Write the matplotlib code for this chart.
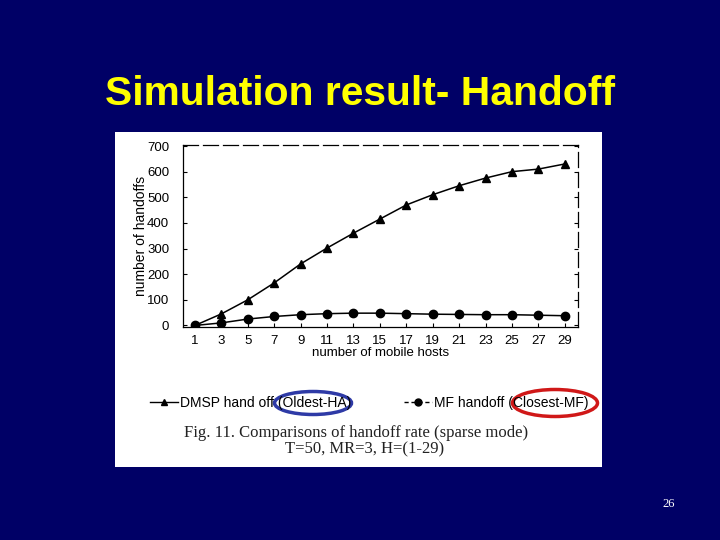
import matplotlib
matplotlib.use("Agg")
import matplotlib.pyplot as plt
from matplotlib.patches import Rectangle, Ellipse

# data
hosts = [1, 3, 5, 7, 9, 11, 13, 15, 17, 19, 21, 23, 25, 27, 29]
dmsp = [0, 45, 100, 166, 240, 302, 360, 415, 470, 510, 545, 575, 600, 610, 630]
mf = [0, 10, 25, 35, 42, 46, 48, 48, 46, 44, 43, 42, 42, 40, 38]
yticks = [0, 100, 200, 300, 400, 500, 600, 700]

navy = "#000066"
sans = ["Liberation Sans", "DejaVu Sans"]
serif = ["Liberation Serif", "DejaVu Serif"]

fig = plt.figure(figsize=(7.2, 5.4), dpi=100)
fig.patch.set_facecolor(navy)

# white scanned panel
W, H = 720.0, 540.0
fig.add_artist(Rectangle((115 / W, 1 - 467 / H), (602 - 115) / W, (467 - 132) / H,
                         transform=fig.transFigure, facecolor="white",
                         edgecolor="none", zorder=0))

fig.text(0.5, 1 - 94 / H, "Simulation result- Handoff", color="#ffff00",
         fontsize=29.3, fontweight="bold", family=sans, ha="center", va="center")

ax = fig.add_axes([183 / W, 1 - 327 / H, (578 - 183) / W, (327 - 145) / H])
ax.set_facecolor("white")
l1, = ax.plot(hosts, dmsp, color="black", lw=1.1, marker="^", ms=6,
              label="DMSP hand off (Oldest-HA)")
l2, = ax.plot(hosts, mf, color="black", lw=1.1, marker="o", ms=6,
              label="MF handoff (Closest-MF)")
ax.set_xlim(0.1, 30)
ax.set_ylim(-6, 704)
ax.set_xticks(hosts)
ax.set_yticks(yticks)
ax.tick_params(axis="both", direction="in", labelsize=9.5, length=3, width=0.8,
               colors="black", right=True, top=False)
ax.tick_params(axis="x", pad=6)
ax.tick_params(axis="y", pad=10)
for lab in ax.get_xticklabels() + ax.get_yticklabels():
    lab.set_family(sans)
for s in ax.spines.values():
    s.set_linewidth(0.9)
ax.spines["top"].set_linestyle((0, (12, 4)))
ax.spines["right"].set_linestyle((0, (12, 4)))
ax.set_xlabel("number of mobile hosts", fontsize=9.5, family=sans, labelpad=0)
ax.set_ylabel("number of handoffs", fontsize=10, family=sans, labelpad=-1)

# legend below the plot, like the scan: one entry per legend box
leg_l1 = plt.Line2D([], [], color="black", lw=1.0, marker="^", ms=5)
leg_l2 = plt.Line2D([], [], color="black", lw=1.0, ls=(0, (3, 2)), marker="o", ms=5)
for handle, line, x0 in [(leg_l1, l1, 150), (leg_l2, l2, 404)]:
    lg = fig.legend([handle], [line.get_label()], loc="center left",
                    bbox_to_anchor=(x0 / W, 1 - 403 / H), frameon=False,
                    borderpad=0, borderaxespad=0, handlelength=2.0,
                    handletextpad=0.15, prop={"family": sans, "size": 10})

fig.add_artist(Ellipse((313 / W, 1 - 403 / H), 77 / W, 23 / H, transform=fig.transFigure,
                       fill=False, edgecolor="#2e3aa6", lw=2.5, zorder=5))
fig.add_artist(Ellipse((555 / W, 1 - 403 / H), 85 / W, 27 / H, transform=fig.transFigure,
                       fill=False, edgecolor="#d01818", lw=2.5, zorder=5))

fig.text(356 / W, 1 - 433 / H, "Fig. 11. Comparisons of handoff rate (sparse mode)",
         fontsize=12, family=serif, ha="center", va="center", color="#222222")
fig.text(365 / W, 1 - 449 / H, "T=50, MR=3, H=(1-29)",
         fontsize=12, family=serif, ha="center", va="center", color="#222222")

fig.text(669 / W, 1 - 504 / H, "26", fontsize=9, family=serif, color="white",
         ha="center", va="center")

fig.savefig("out.png", dpi=100, facecolor=navy)
